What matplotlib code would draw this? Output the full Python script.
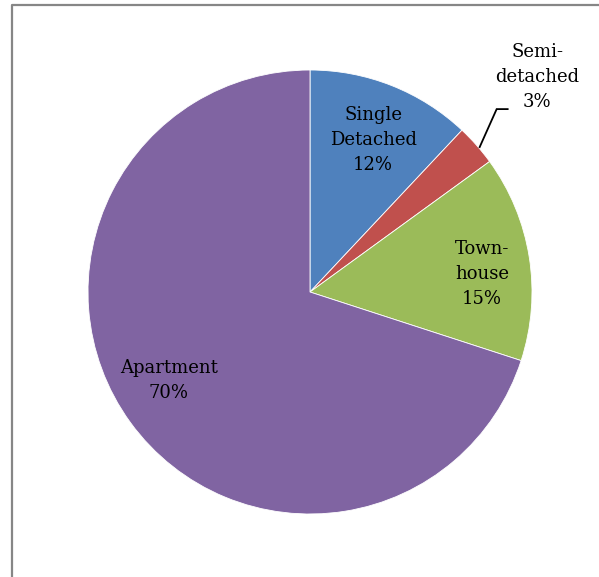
import matplotlib.pyplot as plt
import numpy as np
from matplotlib.lines import Line2D

labels = ["Single\nDetached", "Semi-\ndetached", "Town-\nhouse", "Apartment"]
shares = [12, 3, 15, 70]
colors = ["#4f81bd", "#c0504d", "#9bbb59", "#8064a2"]
title = "Dwelling Type of Occupied Units"

W, H = 599, 577
fig = plt.figure(figsize=(W / 100, H / 100), dpi=100)
ax = fig.add_axes([0, 0, 1, 1])

cx, cy, r = 310, H - 292, 222
wedges, _ = ax.pie(shares, colors=colors, startangle=90, counterclock=False,
                   center=(cx, cy), radius=r, frame=True,
                   wedgeprops=dict(linewidth=0.6, edgecolor="white"))
ax.set_xlim(0, W)
ax.set_ylim(0, H)
ax.set_aspect("equal")
ax.axis("off")

font = dict(family="DejaVu Serif", size=13, color="black", linespacing=1.5)
# inside labels: (radius fraction, angle tweak in degrees)
inside = {0: (0.74, -1.0), 2: (0.78, -3.0), 3: (0.75, -4.0)}
for i, (w, lab, val) in enumerate(zip(wedges, labels, shares)):
    mid = np.deg2rad((w.theta1 + w.theta2) / 2)
    text = f"{lab}\n{val}%"
    if i in inside:
        f, tweak = inside[i]
        a = mid + np.deg2rad(tweak)
        ax.text(cx + f * r * np.cos(a), cy + f * r * np.sin(a), text,
                ha="center", va="center", **font)
    else:
        # small slice: label outside with a bent leader line
        a = mid - np.deg2rad(0.9)
        x0, y0 = cx + 1.005 * r * np.cos(a), cy + 1.005 * r * np.sin(a)
        x1, y1 = x0 + 17, y0 + 38
        ax.plot([x0, x1, x1 + 11], [y0, y1, y1], color="black", lw=1.3,
                solid_joinstyle="miter")
        ax.text(cx + 1.41 * r * np.cos(mid + np.deg2rad(2)),
                cy + 1.41 * r * np.sin(mid + np.deg2rad(2)), text,
                ha="center", va="center", **font)

# chart title sits above the visible area, only its descenders reach in
fig.text(0.5, 1.0 + 3.5 / H, title, ha="center", va="baseline",
         fontsize=15, fontweight="bold", family="DejaVu Sans")

# plot-area border
fig.add_artist(Line2D([11.5 / W, 11.5 / W, 1.02], [-0.02, 1 - 5 / H, 1 - 5 / H],
                      transform=fig.transFigure, color="#868686", lw=1.6))

fig.savefig("out.png", dpi=100)
